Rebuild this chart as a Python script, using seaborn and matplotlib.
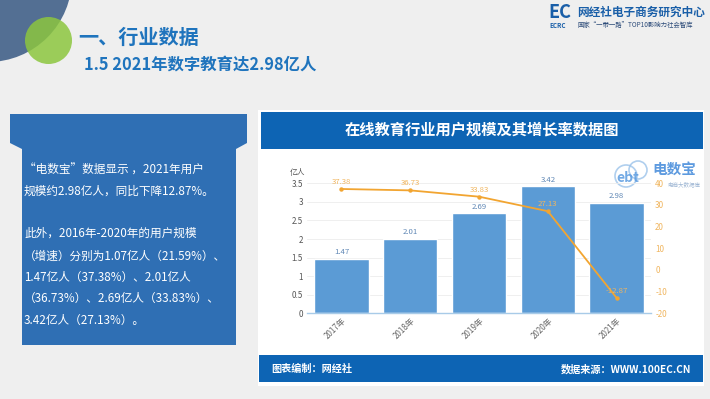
import matplotlib
matplotlib.use("Agg")
import matplotlib.pyplot as plt
from matplotlib.patches import Circle, Rectangle, Polygon
import seaborn as sns

# ---- data ----
years = ['2017年', '2018年', '2019年', '2020年', '2021年']
users = [1.47, 2.01, 2.69, 3.42, 2.98]          # 亿人
growth = [37.38, 36.73, 33.83, 27.13, -12.87]   # %
left_ticks = [0, 0.5, 1, 1.5, 2, 2.5, 3, 3.5]
right_ticks = [-20, -10, 0, 10, 20, 30, 40]

sns.set_theme(style="white")
plt.rcParams['font.family'] = ['Noto Sans CJK SC', 'DejaVu Sans']
plt.rcParams['axes.unicode_minus'] = False

W, H = 710, 399
fig = plt.figure(figsize=(W / 100, H / 100), dpi=100)
fig.patch.set_facecolor('#efefef')

# ---- background / decoration layer in pixel coords ----
bg = fig.add_axes([0, 0, 1, 1])
bg.set_xlim(0, W)
bg.set_ylim(H, 0)
bg.axis('off')
bg.set_zorder(0)

bg.add_patch(Circle((-12, -22), 84, color='#536f93', lw=0))
bg.add_patch(Circle((48.5, 40.5), 23.5, color='#8cc63f', alpha=0.85, lw=0))

bg.text(78, 37, '一、行业数据', fontsize=14.5, fontweight='bold', color='#1f74bd',
        va='center', ha='left')
bg.text(84, 65, '1.5 2021年数字教育达2.98亿人', fontsize=11.8, fontweight='bold',
        color='#1f74bd', va='center', ha='left')

# top-right logo
bg.text(560, 12, 'EC', fontsize=13, fontweight='bold', color='#1a5fa8',
        va='center', ha='center')
bg.text(558, 26, 'ECRC', fontsize=4.5, fontweight='bold', color='#1a5fa8',
        va='center', ha='center')
bg.text(577, 12, '网经社电子商务研究中心', fontsize=8.4, fontweight='bold',
        color='#1a5fa8', va='center', ha='left')
bg.text(577, 25, '国家“一带一路”TOP10影响力社会智库', fontsize=4.6,
        color='#2b4a78', va='center', ha='left')

# left blue panel
bg.add_patch(Polygon([(10, 114), (247, 114), (247, 143), (236, 149), (236, 345),
                      (22, 345), (22, 149), (10, 143)], closed=True,
                     color='#2f6fb4', lw=0))
lines = [
    '“电数宝”数据显示 ，2021年用户',
    '规模约2.98亿人，同比下降12.87%。',
    '',
    '此外，2016年-2020年的用户规模',
    '（增速）分别为1.07亿人（21.59%）、',
    '1.47亿人（37.38%）、2.01亿人',
    '（36.73%）、2.69亿人（33.83%）、',
    '3.42亿人（27.13%）。',
]
ys = [170, 191, 212, 233, 256, 277, 298, 320]
for t, y in zip(lines, ys):
    if t:
        bg.text(24, y, t, fontsize=8.4, color='white', va='center', ha='left')

# right card
bg.add_patch(Rectangle((258, 110), 446, 276, color='white', lw=0))
bg.add_patch(Rectangle((261, 112), 442, 37, color='#0d64b4', lw=0))
bg.text(482, 130, '在线教育行业用户规模及其增长率数据图', fontsize=11,
        fontweight='bold', color='white', va='center', ha='center')
bg.add_patch(Rectangle((259, 355), 444, 27, color='#0d64b4', lw=0))
bg.text(271, 369, '图表编制：网经社', fontsize=7.3, fontweight='bold',
        color='white', va='center', ha='left')
bg.text(691, 369, '数据来源：WWW.100EC.CN', fontsize=7.3, fontweight='bold',
        color='white', va='center', ha='right')

# watermark logo
bg.add_patch(Circle((626, 176), 11, fill=False, ec='#9cc3ea', lw=1.2, alpha=0.8))
bg.add_patch(Circle((638, 170), 9, fill=False, ec='#9cc3ea', lw=1.2, alpha=0.8))
bg.text(628, 178, 'ebt', fontsize=10, fontweight='bold', color='#5a9be0',
        va='center', ha='center', alpha=0.85, style='italic')
bg.text(674, 169, '电数宝', fontsize=10.5, fontweight='bold', color='#4b8fdc',
        va='center', ha='center', alpha=0.9)
bg.text(684, 184, '电商大数据库', fontsize=4, color='#9fb7d4',
        va='center', ha='center')

# ---- chart ----
x0, x1, ytop, ybot = 307, 651, 183.3, 313.3
ax = fig.add_axes([x0 / W, 1 - ybot / H, (x1 - x0) / W, (ybot - ytop) / H])
ax.set_zorder(2)
ax.patch.set_alpha(0)

sns.barplot(x=years, y=users, ax=ax, color='#5b9bd5', saturation=1, width=0.79,
            zorder=2)
ax.set_ylim(0, 3.5)
ax.set_xlim(-0.5, 4.5)
ax.set_yticks(left_ticks)
ax.set_yticklabels([('%g' % v) for v in left_ticks])
ax.tick_params(axis='y', length=0, pad=3, labelsize=5.8, labelcolor='#555555')
ax.tick_params(axis='x', length=0, pad=2, labelsize=5.8, labelcolor='#666666')
plt.setp(ax.get_xticklabels(), rotation=45, ha='right', va='top',
         rotation_mode='anchor')
ax.set_xlabel('')
ax.set_ylabel('')
ax.grid(axis='y', color='#ececec', lw=0.6)
ax.set_axisbelow(True)
for s in ['top', 'right', 'left']:
    ax.spines[s].set_visible(False)
ax.spines['bottom'].set_color('#a8cbe8')
ax.spines['bottom'].set_linewidth(1)
for i, v in enumerate(users):
    ax.annotate('%.2f' % v, (i, v), xytext=(0, 4.6), textcoords='offset points',
                ha='center', va='center', fontsize=5.6, color='#5f87b5')
ax.text(-0.005, 1.08, '亿人', transform=ax.transAxes, fontsize=5.6,
        color='#555555', ha='right', va='center')

ax2 = ax.twinx()
ax2.set_zorder(3)
sns.pointplot(x=years, y=growth, ax=ax2, color='#f2a531', markers='o',
              markersize=2.2, linewidth=1.3)
ax2.set_ylim(-20, 40)
ax2.set_xlim(-0.5, 4.5)
ax2.set_yticks(right_ticks)
ax2.set_yticklabels([str(v) for v in right_ticks])
ax2.tick_params(axis='y', length=0, pad=3, labelsize=5.8, labelcolor='#f0b55e')
ax2.set_ylabel('')
ax2.set_xlabel('')
for s in ['top', 'right', 'left', 'bottom']:
    ax2.spines[s].set_visible(False)
ax2.grid(False)
for i, v in enumerate(growth):
    ax2.annotate('%.2f' % v, (i, v), xytext=(0, 5), textcoords='offset points',
                 ha='center', va='center', fontsize=5.6, color='#f0b55e')

fig.savefig('out.png', dpi=100, facecolor=fig.get_facecolor())
